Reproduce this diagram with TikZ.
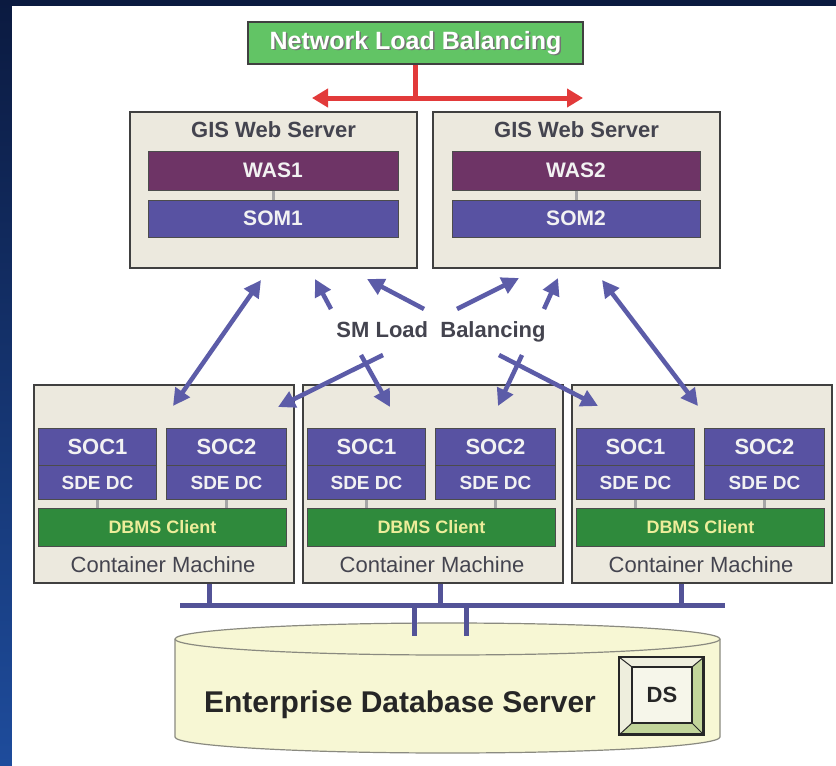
\documentclass[tikz,border=0pt]{standalone}
\usepackage{fontspec}
\setmainfont{Liberation Sans}
\usetikzlibrary{arrows.meta,calc}
\definecolor{nvy}{HTML}{0B1A40}
\definecolor{edgeblue}{HTML}{1E4C9C}
\definecolor{boxfill}{HTML}{ECE9DE}
\definecolor{wasfill}{HTML}{6E3466}
\definecolor{somfill}{HTML}{5852A2}
\definecolor{dbmsfill}{HTML}{2F8A3C}
\definecolor{dbmstext}{HTML}{EDED9A}
\definecolor{nlbfill}{HTML}{62C465}
\definecolor{arrowblue}{HTML}{5C5CA8}
\definecolor{redarrow}{HTML}{E23A3A}
\definecolor{darktext}{HTML}{44444F}
\definecolor{dbfill}{HTML}{F7F7D4}
\definecolor{dbline}{HTML}{8A8A80}
\definecolor{dsbevel}{HTML}{C2D59A}
\definecolor{dspale}{HTML}{EEEEDD}
\definecolor{dsinner}{HTML}{F6F6EA}
\begin{document}
\begin{tikzpicture}[x=1pt,y=-1pt,
  box/.style={draw=black!75, line width=1.8pt, fill=boxfill, inner sep=0pt},
  bar/.style={draw=black!70, line width=1pt, inner sep=0pt, text=white!95!black, font=\fontsize{21}{24}\selectfont\bfseries},
  wasbar/.style={bar, fill=wasfill, minimum width=250pt, minimum height=39pt},
  sombar/.style={bar, fill=somfill, minimum width=250pt, minimum height=37pt},
  socbox/.style={bar, fill=somfill, anchor=north west, minimum height=37pt, font=\fontsize{22}{24}\selectfont\bfseries},
  sdebox/.style={bar, fill=somfill, anchor=north west, minimum height=34pt, font=\fontsize{19}{22}\selectfont\bfseries},
  dbmsbox/.style={bar, fill=dbmsfill, anchor=north west, minimum width=248pt, minimum height=38pt, text=dbmstext, font=\fontsize{18}{22}\selectfont\bfseries},
  title/.style={text=darktext, font=\fontsize{22}{26}\selectfont\bfseries},
  cmlabel/.style={text=darktext, font=\fontsize{22}{26}\selectfont},
  stub/.style={draw=gray!70, line width=3pt},
  smarrow/.style={draw=arrowblue, line width=4.5pt, -{Triangle[length=17pt,width=17pt]}},
  smdouble/.style={draw=arrowblue, line width=4.5pt, {Triangle[length=17pt,width=17pt]}-{Triangle[length=17pt,width=17pt]}},
  busline/.style={draw=arrowblue!90!black, line width=5pt},
  redline/.style={draw=redarrow, line width=5pt},
]
\useasboundingbox (0,0) rectangle (836,766);
\fill[nvy] (0,0) rectangle (836,766);
\shade[top color=nvy, bottom color=edgeblue] (0,0) rectangle (12,766);
\fill[white] (12,6) rectangle (836,766);

% Network load balancing
\node[draw=black!75, line width=1.8pt, fill=nlbfill, minimum width=335pt, minimum height=42pt, inner sep=0pt] (nlb) at (415.5,43) {};
\node[text=black!55, font=\fontsize{25}{28}\selectfont\bfseries] at ($(nlb)+(1.5,1.5)$) {Network Load Balancing};
\node[text=white, font=\fontsize{25}{28}\selectfont\bfseries] (nlbtext) at (nlb) {Network Load Balancing};
\coordinate (rl) at (312,98);
\coordinate (rr) at (583,98);
\draw[redline] (nlb.south) -- (nlb.south |- rl);
\draw[redline, {Triangle[length=16pt,width=18pt]}-{Triangle[length=16pt,width=18pt]}] (rl) -- (rr);

% GIS web servers
\node[box, minimum width=287pt, minimum height=156pt] (ws1) at (273.5,190) {};
\node[box, minimum width=287pt, minimum height=156pt] (ws2) at (576.5,190) {};
\node[title] (ws1t) at ($(ws1.north)+(0,19)$) {GIS Web Server};
\node[title] (ws2t) at ($(ws2.north)+(0,19)$) {GIS Web Server};
\node[wasbar] (was1) at (273,170.5) {WAS1};
\node[sombar] (som1) at (273,218.5) {SOM1};
\node[wasbar, minimum width=248pt] (was2) at (576,170.5) {WAS2};
\node[sombar, minimum width=248pt] (som2) at (576,218.5) {SOM2};
\draw[stub] (was1.south) -- (som1.north);
\draw[stub] (was2.south) -- (som2.north);

% Container machines
\foreach \i/\L in {1/33,2/302,3/571}{
  \node[box, anchor=north west, minimum width=260pt, minimum height=198pt] (cm\i) at (\L,384) {};
  \node[socbox, minimum width=118pt] (cm\i-soc1) at (\L+5,428) {SOC1};
  \node[sdebox, minimum width=118pt] (cm\i-sde1) at (\L+5,465) {SDE DC};
  \node[socbox, minimum width=120pt] (cm\i-soc2) at (\L+133,428) {SOC2};
  \node[sdebox, minimum width=120pt] (cm\i-sde2) at (\L+133,465) {SDE DC};
  \node[dbmsbox] (cm\i-dbms) at (\L+5,508) {DBMS Client};
  \node[cmlabel] (cm\i-label) at (\L+130,565) {Container Machine};
  \draw[stub] (cm\i-sde1.south) -- (cm\i-sde1.south |- cm\i-dbms.north);
  \draw[stub] (cm\i-sde2.south) -- (cm\i-sde2.south |- cm\i-dbms.north);
}

% SM load balancing
\node[title] (sm) at (441,332) {SM Load\ \ Balancing};
\coordinate (a1u) at (261,280); \coordinate (a1d) at (173,406);
\coordinate (a2t) at (331,309); \coordinate (a2h) at (315,279);
\coordinate (a3t) at (424,309); \coordinate (a3h) at (367,279);
\coordinate (a4t) at (457,309); \coordinate (a4h) at (519,278);
\coordinate (a5t) at (544,309); \coordinate (a5h) at (558,278);
\coordinate (a6u) at (602,280); \coordinate (a6d) at (698,406);
\coordinate (a7t) at (383,355); \coordinate (a7h) at (278,407);
\coordinate (a8t) at (361,355); \coordinate (a8h) at (390,407);
\coordinate (a9t) at (522,355); \coordinate (a9h) at (498,406);
\coordinate (a10t) at (499,355); \coordinate (a10h) at (598,406);
\draw[smdouble] (a1u) -- (a1d);
\draw[smarrow] (a2t) -- (a2h);
\draw[smarrow] (a3t) -- (a3h);
\draw[smarrow] (a4t) -- (a4h);
\draw[smarrow] (a5t) -- (a5h);
\draw[smdouble] (a6u) -- (a6d);
\draw[smarrow] (a7t) -- (a7h);
\draw[smarrow] (a8t) -- (a8h);
\draw[smarrow] (a9t) -- (a9h);
\draw[smarrow] (a10t) -- (a10h);

% Database cylinder
\path[fill=dbfill, draw=dbline, line width=1.2pt] (175,639) -- (175,737)
  arc[start angle=180, end angle=360, x radius=272.5pt, y radius=16pt] -- (720,639)
  arc[start angle=0, end angle=180, x radius=272.5pt, y radius=16pt] -- cycle;
\draw[dbline, line width=1.2pt] (175,639) arc[start angle=180, end angle=360, x radius=272.5pt, y radius=16pt];
\node[text=black!85, font=\fontsize{30}{34}\selectfont\bfseries] (dbtext) at (400,705) {Enterprise Database Server};

% Network bus
\coordinate (busL) at (180,605); \coordinate (busR) at (725,605);
\coordinate (d1) at (209,605); \coordinate (d2) at (440,605); \coordinate (d3) at (681,605);
\coordinate (t1) at (414,636); \coordinate (t2) at (466,636);
\draw[busline] (cm1.south -| d1) -- (d1);
\draw[busline] (cm2.south -| d2) -- (d2);
\draw[busline] (cm3.south -| d3) -- (d3);
\draw[busline] (busL) -- (busR);
\draw[busline] (t1 |- busL) -- (t1);
\draw[busline] (t2 |- busL) -- (t2);

% DS box
\node[draw=black!85, line width=2pt, fill=dsbevel, minimum width=83pt, minimum height=76pt, inner sep=0pt] (ds) at (661.5,696) {};
\coordinate (dsinNW) at (632,667); \coordinate (dsinSE) at (692,723);
\fill[dspale] (ds.north west) -- (ds.north east) -- (dsinSE |- dsinNW) -- (dsinNW) -- (dsinNW |- dsinSE) -- (ds.south west) -- cycle;
\draw[black!85, line width=1pt] (ds.north west) -- (dsinNW);
\draw[black!85, line width=1pt] (ds.north east) -- (dsinSE |- dsinNW);
\draw[black!85, line width=1pt] (ds.south west) -- (dsinNW |- dsinSE);
\draw[black!85, line width=1pt] (ds.south east) -- (dsinSE);
\draw[black!85, line width=2pt] (ds.north west) rectangle (ds.south east);
\node[draw=black!85, line width=1.8pt, fill=dsinner, minimum width=60pt, minimum height=56pt, inner sep=0pt, text=black!85, font=\fontsize{22}{24}\selectfont\bfseries] (dsin) at (662,695) {DS};
\end{tikzpicture}
\end{document}
